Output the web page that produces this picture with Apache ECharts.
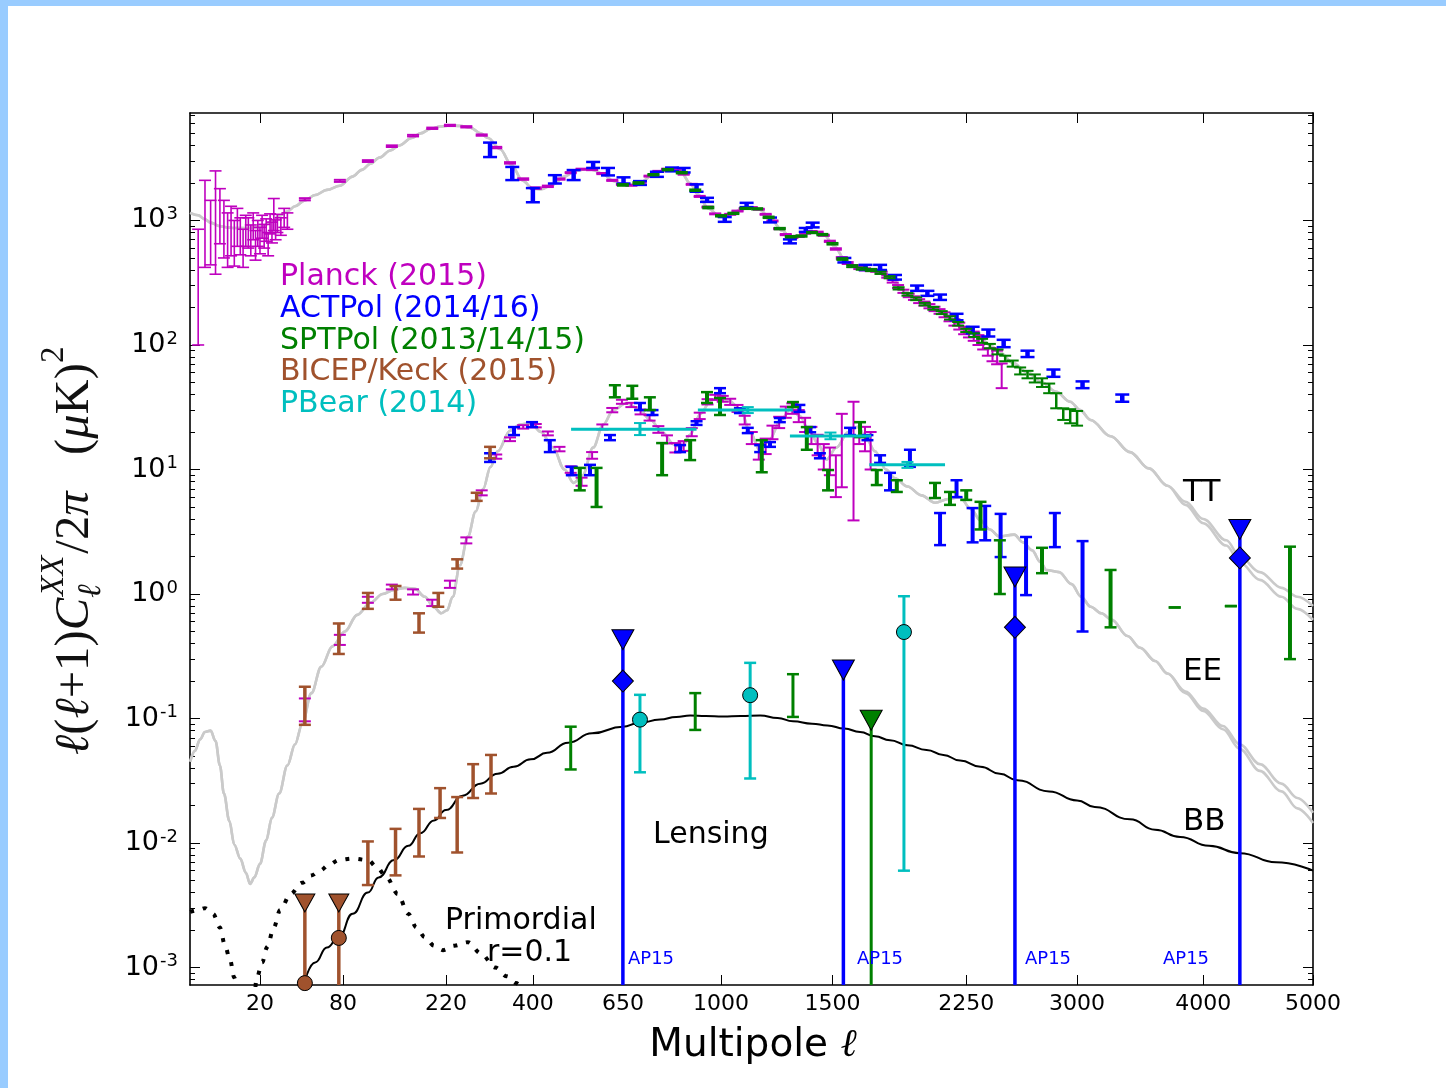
<!DOCTYPE html>
<html><head><meta charset="utf-8">
<script src="https://cdn.jsdelivr.net/npm/echarts@6/dist/echarts.min.js"></script>
<style>html,body{margin:0;padding:0;background:#fff}#c{width:1446px;height:1088px}</style>
</head><body><div id="c"></div><script>
// ---------- axis ticks ----------
const xTickLabels = [20, 80, 220, 400, 650, 1000, 1500, 2250, 3000, 4000, 5000];
const yTickExps = [-3, -2, -1, 0, 1, 2, 3];

// ---------- theory curves [ell, D] ----------
const ttTheory = [[1.1,1150],[2,1100],[3,1020],[4,960],[6,900],[8,880],[10,870],[14,870],[18,880],[22,910],[26,990],[30,1090],[35,1180],[40,1300],[47,1450],[55,1600],[65,1760],[77,1900],[90,2250],[100,2550],[110,2850],[121,3200],[135,3650],[147,4000],[165,4600],[178,5000],[195,5450],[210,5680],[227,5800],[245,5750],[265,5550],[285,5000],[300,4600],[325,3750],[350,2800],[375,2100],[400,1800],[420,1780],[450,1950],[480,2250],[510,2500],[540,2580],[560,2550],[590,2350],[620,2080],[650,1930],[680,1920],[710,2050],[750,2350],[790,2550],[820,2570],[850,2400],[880,2000],[910,1620],[950,1250],[990,1100],[1030,1110],[1080,1220],[1120,1270],[1160,1220],[1210,1030],[1260,830],[1300,730],[1340,740],[1390,800],[1420,810],[1460,760],[1510,620],[1560,490],[1610,430],[1660,410],[1720,400],[1780,370],[1830,320],[1880,275],[1940,240],[2000,215],[2060,195],[2130,175],[2200,150],[2270,130],[2340,113],[2400,100],[2470,86],[2550,72],[2650,60],[2750,50],[2850,42],[2950,35],[3022,30],[3100,25],[3250,18.5],[3400,13.8],[3550,10.2],[3700,7.4]];
const ttTailA = [[3850,5.5],[4000,4.0],[4200,2.7],[4320,2.0],[4500,1.5],[4700,1.12],[4850,0.95],[5000,0.8]];
const ttTailB = [[3850,5.2],[4000,3.7],[4200,2.45],[4320,1.8],[4500,1.3],[4700,0.95],[4850,0.76],[5000,0.62]];

const eeTheory = [[1.1,0.045],[1.6,0.055],[2.25,0.068],[3,0.078],[4,0.08],[5,0.066],[6,0.042],[7,0.025],[8.5,0.015],[10,0.0097],[12,0.0075],[14,0.0058],[15.7,0.0047],[17.5,0.0053],[20,0.0068],[23,0.0105],[26,0.016],[30,0.025],[35,0.042],[40,0.062],[45,0.09],[52,0.16],[60,0.26],[70,0.38],[82,0.5],[95,0.68],[110,0.85],[125,1.0],[140,1.08],[155,1.12],[170,1.1],[185,0.95],[200,0.78],[212,0.7],[222,0.74],[232,0.95],[245,1.7],[260,2.9],[275,4.6],[290,7],[305,10.5],[320,14],[347,20.5],[370,23],[395,23.5],[420,20],[450,15],[480,10],[505,7.8],[530,9],[560,15],[590,23],[620,30],[660,34],[700,31],[740,25],[780,20],[820,16],[850,15],[880,19],[920,28],[960,36],[990,38],[1030,36],[1080,30],[1120,20],[1160,14.4],[1200,17],[1256,25],[1300,31],[1340,27],[1390,20],[1430,16],[1470,12],[1520,15],[1580,20],[1630,22],[1680,17],[1720,14],[1780,10],[1830,8.5],[1900,7.3],[1980,6.2],[2060,5.4],[2140,5.8],[2210,6.0],[2280,4.8],[2340,3.9],[2400,3.3],[2460,2.9],[2560,3.0],[2620,2.6],[2680,2.25],[2740,1.8],[2780,1.56],[2870,1.5],[2960,1.2],[3030,0.95],[3100,0.79],[3180,0.7],[3260,0.62],[3380,0.46],[3480,0.37],[3600,0.29],[3700,0.23]];
const eeTailA = [[3850,0.165],[4000,0.12],[4170,0.087],[4320,0.062],[4500,0.043],[4700,0.03],[4850,0.023],[5000,0.0175]];
const eeTailB = [[3850,0.16],[4000,0.115],[4170,0.082],[4320,0.057],[4500,0.038],[4700,0.026],[4850,0.019],[5000,0.0145]];

const bbLensing = [[46,0.00072],[55,0.0011],[65,0.00145],[76,0.00176],[90,0.0027],[107,0.004],[120,0.0053],[140,0.0073],[160,0.0095],[178,0.012],[200,0.0152],[220,0.0184],[250,0.024],[284,0.030],[320,0.036],[355,0.041],[395,0.047],[435,0.053],[490,0.064],[557,0.076],[650,0.086],[700,0.092],[773,0.098],[830,0.103],[881,0.106],[940,0.105],[1008,0.104],[1080,0.105],[1163,0.106],[1240,0.101],[1310,0.095],[1400,0.091],[1475,0.088],[1560,0.083],[1641,0.078],[1720,0.072],[1802,0.067],[1900,0.061],[2010,0.056],[2110,0.051],[2212,0.046],[2340,0.041],[2465,0.036],[2580,0.032],[2800,0.026],[3000,0.022],[3130,0.0195],[3400,0.0155],[3600,0.0128],[3805,0.0112],[4050,0.0095],[4320,0.0083],[4650,0.007],[5000,0.006]];
const bbPrimordial = [[1.1,0.0028],[2,0.0029],[3,0.003],[4.5,0.0027],[6,0.0021],[7.3,0.0015],[8.7,0.00115],[10,0.00083],[11.5,0.00055],[13,0.0004],[15,0.00035],[17,0.0005],[18.6,0.00083],[21,0.0011],[23.5,0.00146],[27,0.0021],[30.6,0.0029],[37,0.0039],[45,0.0048],[52,0.0055],[59,0.006],[67,0.0067],[76,0.0073],[90,0.0075],[107,0.0073],[118,0.0064],[130,0.0053],[145,0.0039],[160,0.0027],[172,0.0021],[185,0.00176],[200,0.0015],[215,0.00138],[235,0.0015],[260,0.0016],[285,0.0013],[315,0.001],[340,0.00085],[360,0.00075],[400,0.00055],[450,0.0004]];

// ---------- data: [ell, D, low, high] ----------
const planckTTlow = [[2,500,100,850],[3,900,420,2100],[4,750,440,1450],[5,1000,370,2500],[6,1100,650,1800],[7,850,500,1450],[8,700,420,1150],[9,800,520,1300],[10,650,430,1000],[11,900,620,1250],[12,750,530,1050],[13,600,420,850],[14,850,620,1100],[15,800,600,1050],[16,700,520,920],[17,900,700,1150],[18,650,480,830],[19,800,620,1000],[20,700,540,880],[21,900,720,1100],[22,750,600,930],[23,850,680,1030],[24,650,520,800],[25,950,780,1130],[26,800,660,970],[27,1000,830,1500],[28,850,700,1010],[29,950,800,1120],[31,900,760,1050],[33,1050,880,1250],[35,1000,850,1150]];
// [ell, D, sigma]
const planckTT = [[47,1480,30],[77,2080,40],[107,3000,50],[137,3950,60],[167,4800,70],[197,5500,70],[227,5800,70],[257,5650,70],[287,4850,60],[317,3850,50],[347,2900,40],[377,2150,30],[407,1820,25],[437,1880,25],[467,2150,25],[497,2420,25],[527,2580,25],[557,2560,25],[587,2380,25],[617,2100,22],[647,1950,20],[677,1920,20],[707,2030,20],[737,2270,20],[767,2480,22],[797,2580,22],[827,2560,22],[857,2350,20],[887,1950,18],[917,1560,15],[947,1280,12],[977,1130,10],[1007,1090,10],[1037,1120,10],[1067,1190,10],[1097,1250,11],[1127,1270,11],[1157,1230,11],[1187,1120,10],[1217,990,10],[1247,860,9],[1277,770,8],[1307,730,8],[1337,745,8],[1367,790,8],[1397,815,8],[1427,805,8],[1457,760,8],[1487,680,8],[1517,590,8],[1547,500,8],[1577,455,8],[1607,430,8],[1637,415,8],[1667,405,8],[1697,400,8],[1727,395,8],[1757,380,8],[1787,355,8],[1817,325,8],[1847,295,8],[1877,270,8],[1907,250,8],[1937,238,8],[1967,225,8],[1997,215,8],[2027,205,8],[2057,195,8],[2087,186,8],[2117,175,8],[2147,163,8],[2177,152,9],[2207,142,9],[2237,131,9],[2267,125,10],[2297,118,10],[2327,110,10],[2357,104,12],[2387,88,6],[2417,84,10],[2447,80,10],[2477,58,13]];
const actTT = [[304,3680,3230,4220],[352,2400,2110,2690],[400,1620,1400,1820],[455,2130,1980,2310],[505,2300,2110,2540],[560,2790,2640,2950],[604,2460,2300,2640],[652,2100,1980,2220],[705,2010,1930,2070],[762,2350,2240,2460],[815,2580,2480,2660],[857,2530,2430,2640],[905,1820,1700,1950],[945,1460,1410,1520],[1015,1020,975,1065],[1105,1330,1280,1385],[1206,1010,965,1055],[1296,680,655,705],[1370,840,810,870],[1403,920,880,960],[1560,480,460,500],[1670,420,400,440],[1748,420,400,440],[1830,350,335,365],[1955,286,272,300],[2015,260,248,272],[2090,242,230,254],[2190,168,158,178],[2290,132,124,140],[2390,125,117,133],[2490,103,96,110],[2650,85,80,90],[2830,59.5,55.5,63.5],[3040,48,45,51],[3340,37.5,35,40]];
// [ell, D, sigma]
const sptTT = [[650,1930,30],[700,2000,30],[750,2330,30],[800,2560,35],[850,2420,35],[900,1750,25],[950,1270,20],[1000,1090,15],[1050,1140,15],[1100,1250,15],[1150,1240,15],[1200,1060,15],[1250,860,12],[1300,740,10],[1350,750,10],[1400,800,10],[1450,770,10],[1500,650,10],[1550,490,8],[1600,430,8],[1650,410,8],[1700,400,8],[1750,380,8],[1800,350,7],[1850,285,6],[1900,255,6],[1950,235,6],[2000,213,5],[2050,197,5],[2100,182,5],[2150,165,5],[2200,148,5],[2250,131,4],[2300,120,4],[2350,108,4],[2400,98,4],[2450,88,4],[2500,78,4],[2550,71,4],[2600,62,4],[2650,58,4],[2700,54,4],[2750,50,4],[2800,45,4],[2850,36,5],[2900,28,3],[2950,27,3.5],[3000,26,3.5]];

const planckEE = [[47,0.12,0.095,0.145],[77,0.43,0.39,0.47],[107,0.9,0.85,0.95],[137,1.14,1.09,1.19],[167,1.04,0.99,1.09],[197,0.85,0.8,0.9],[227,1.2,1.12,1.28],[257,2.7,2.55,2.85],[287,6.5,6.2,6.8],[317,12.7,12.2,13.2],[347,17.5,16.9,18.1],[377,22,21.3,22.7],[407,22.5,21.8,23.2],[437,19.5,18.8,20.2],[467,14.6,14,15.2],[497,10,9.4,10.6],[527,8,7.4,8.6],[557,13,12.2,13.8],[587,22,21,23],[617,30,28.8,31.2],[647,35,33.7,36.3],[677,33,31.7,34.3],[707,29,27.7,30.3],[737,26,24.7,27.3],[767,21,19.7,22.3],[797,17.5,16.2,18.8],[827,15,13.7,16.3],[857,15.5,14.1,16.9],[887,20,18.5,21.5],[917,27,25.4,28.6],[947,35,33.3,36.7],[977,38,36.2,39.8],[1007,37,35,39],[1037,35,33,37],[1067,31,29,33],[1097,25,23,27],[1127,18,16,20],[1157,14,12,16],[1187,15.5,13.3,17.7],[1217,20,17.5,22.5],[1247,24,21.5,26.5],[1277,29,26,32],[1307,31,28,34],[1337,27,24,30],[1367,23,20,26],[1397,19,16,22],[1427,16,13,19],[1457,13,10,16],[1487,12,9,15],[1517,9.5,6,13],[1547,15.7,7.2,28],[1607,13,3.9,35],[1637,20,16,24],[1667,18,14,22],[1697,15,10,20]];
const actEE = [[304,12.5,11.5,13.5],[356,20,18.9,21.9],[398,23,21.9,24],[442,15.3,13.8,17.2],[500,9.7,9.0,10.5],[551,9.8,9.0,10.9],[610,18,17.2,18.9],[705,32,30,34.2],[747,29,27.4,30],[844,14.7,13.8,15.7],[905,23.5,22.8,24.4],[996,43,41,45],[1077,29.7,28.4,31],[1110,20.5,19.6,21.6],[1163,14.7,13.8,15.7],[1206,15.9,15.2,16.6],[1250,25,24,25.9],[1340,31,29,33],[1391,20.7,19.9,21.9],[1438,12.9,12.3,13.5],[1589,20,18.9,21.6],[1680,17.8,17.2,18.9],[1748,12.1,11.3,13],[1802,8,6.8,9.4],[1914,12.3,10.5,14.4],[2090,3.4,2.47,4.47],[2190,7,6,8.2],[2290,3.6,2.6,4.9],[2370,3.6,2.7,5.1],[2470,3,1.98,4.4],[2640,1.7,0.98,2.87],[2840,3.3,2.38,4.47],[3040,1.2,0.5,2.66]];
const sptEE = [[522,8.2,6.8,10.3],[570,7.2,5.0,10.3],[625,42,38,47.5],[680,41,37,47],[738,34,30,38],[780,12,9,16.3],[881,14.3,11.9,17.2],[945,37.8,34.2,41.8],[996,32,27.4,37.5],[1170,12.8,9.5,17.2],[1310,33,31.7,34.8],[1375,17.8,14.4,21.9],[1478,8.2,6.8,9.9],[1641,21,18.2,24],[1730,8.7,7.5,9.9],[1840,7.5,6.6,8.2],[2060,6.8,5.9,7.8],[2150,5.9,5.2,6.6],[2250,6.2,5.7,6.8],[2340,4.3,3.3,5.5],[2465,1.6,1.0,2.7],[2750,1.85,1.47,2.35],[3250,0.9,0.54,1.56],[3760,0.78,0.78,0.78],[4240,0.8,0.8,0.8],[4780,0.85,0.3,2.4]];
const bkEE = [[47,0.127,0.089,0.18],[76,0.44,0.33,0.58],[107,0.88,0.76,1.02],[142,1.02,0.9,1.16],[176,0.59,0.49,0.7],[207,0.9,0.79,1.02],[240,1.75,1.6,1.9],[277,6.0,5.6,6.5],[304,13.8,12.3,15.2]];
// [ell, D, low, high, ellMin, ellMax]
const pbEE = [[705,21,18.9,23.6,498,905],[1110,30,28.4,31.7,910,1310],[1490,18.6,17.5,19.8,1296,1700],[1900,10.9,10.3,11.5,1690,2120]];

const bkBB = [[107,0.0069,0.0046,0.0103],[142,0.0085,0.0055,0.013],[176,0.012,0.0078,0.0188],[210,0.021,0.0159,0.0276],[240,0.014,0.0084,0.0234],[270,0.032,0.023,0.043],[306,0.036,0.025,0.051]];
// [ell, upper limit, central]
const bkBBlim = [[47,0.0033,0.00075],[76,0.0033,0.00173]];
const sptBB = [[497,0.058,0.039,0.086],[900,0.115,0.081,0.16],[1310,0.154,0.103,0.227]];
const sptBBlim = [[1700,0.097,null]];
const actBBlim = [[650,0.43,0.2],[1555,0.245,null],[2565,1.37,0.54],[4320,3.3,1.95]];
const pbBB = [[705,0.098,0.037,0.155],[1120,0.154,0.033,0.28],[1880,0.495,0.006,0.96]];

// ---------- scales ----------
const PW = 0.45;
const X = l => Math.pow(l, PW);
const Y = v => Math.log10(v);
const X_MIN = 1.037, X_MAX = X(5000);
const Y_MIN = -3.14, Y_MAX = 3.863;
const COL = {planck:'#bf00bf', act:'#0000ff', spt:'#008000', bk:'#a0522d', pb:'#00bfbf', th:'#cacaca'};
const FS = '"DejaVu Sans", sans-serif';

function lineSeries(pts, color, width, extra) {
  return Object.assign({type:'line', data: pts.map(p => [X(p[0]), Y(p[1])]), showSymbol:false, symbol:'none',
    smooth:0.35, smoothMonotone:'x', silent:true, z:1, lineStyle:{color, width}}, extra || {});
}
function errSeries(data, color, lw, cap, opt) {
  opt = opt || {};
  return {type:'custom', clip:true, silent:true, z: opt.z || 3,
    data: data.map(d => [X(d[0]), Y(d[1]), Y(d[2] > 0 ? d[2] : 1e-7), Y(d[3])]),
    encode:{x:0, y:1},
    renderItem: (params, api) => {
      const x = api.value(0);
      const lo = api.coord([x, api.value(2)]), hi = api.coord([x, api.value(3)]);
      const ch = [{type:'line', shape:{x1:lo[0], y1:lo[1], x2:hi[0], y2:hi[1]}, style:{stroke:color, lineWidth:lw}}];
      const cw = opt.capW || 2;
      if (!opt.noTop) ch.push({type:'line', shape:{x1:hi[0]-cap, y1:hi[1], x2:hi[0]+cap, y2:hi[1]}, style:{stroke:color, lineWidth:cw}});
      if (!opt.noLow) ch.push({type:'line', shape:{x1:lo[0]-cap, y1:lo[1], x2:lo[0]+cap, y2:lo[1]}, style:{stroke:color, lineWidth:cw}});
      return {type:'group', children:ch};
    }};
}
function sym(data, symbol, size, color, rot, z) {
  return {type:'scatter', clip:true, silent:true, z: z || 6, symbol, symbolSize:size, symbolRotate: rot || 0,
    data: data.map(p => [X(p[0]), Y(p[1])]),
    itemStyle:{color, borderColor:'#000', borderWidth:1, opacity:1}};
}
const sig = a => a.map(d => [d[0], d[1], d[1]-d[2], d[1]+d[2]]);
const limLines = a => a.map(d => [d[0], d[1], 1e-7, d[1]]);
const centrals = a => a.filter(d => d[2] != null).map(d => [d[0], d[2]]);

const pbEESeries = {type:'custom', clip:true, silent:true, z:7,
  data: pbEE.map(d => [X(d[0]), Y(d[1]), Y(d[2]), Y(d[3]), X(d[4]), X(d[5])]),
  encode:{x:0, y:1},
  renderItem: (params, api) => {
    const y = api.value(1), xc = api.value(0);
    const a = api.coord([api.value(4), y]), b = api.coord([api.value(5), y]);
    const lo = api.coord([xc, api.value(2)]), hi = api.coord([xc, api.value(3)]);
    const st = {stroke:COL.pb, lineWidth:3};
    return {type:'group', children:[
      {type:'line', shape:{x1:a[0], y1:a[1], x2:b[0], y2:b[1]}, style:st},
      {type:'line', shape:{x1:lo[0], y1:lo[1], x2:hi[0], y2:hi[1]}, style:st},
      {type:'line', shape:{x1:lo[0]-6, y1:lo[1], x2:lo[0]+6, y2:lo[1]}, style:{stroke:COL.pb, lineWidth:2}},
      {type:'line', shape:{x1:hi[0]-6, y1:hi[1], x2:hi[0]+6, y2:hi[1]}, style:{stroke:COL.pb, lineWidth:2}}]};
  }};

// ---------- axes ----------
const xTV = xTickLabels.map(X);
const yTV = yTickExps.slice();
const yMinor = [];
for (let n = -4; n <= 3; n++) for (let k = 2; k <= 9; k++) { const v = n + Math.log10(k); if (v > Y_MIN && v < Y_MAX) yMinor.push(v); }
const AL = {show:true, onZero:false, lineStyle:{color:'#000', width:1.6}};
function xAx(pos, labels) {
  return {type:'value', min:X_MIN, max:X_MAX, position:pos, axisLine:AL, splitLine:{show:false},
    axisTick:{show:true, inside:true, length:10, customValues:xTV, lineStyle:{color:'#000', width:1}},
    axisLabel:{show:labels, customValues:xTV, margin:8, color:'#000', fontSize:22, fontFamily:FS,
      formatter: v => { let i = 0, b = 1e9; xTV.forEach((t, j) => { if (Math.abs(t - v) < b) { b = Math.abs(t - v); i = j; } }); return String(xTickLabels[i]); }}};
}
function yAx(pos, vals, len, labels, line) {
  return {type:'value', min:Y_MIN, max:Y_MAX, position:pos, axisLine: line ? AL : {show:false}, splitLine:{show:false},
    axisTick:{show:true, inside:true, length:len, customValues:vals, lineStyle:{color:'#000', width:1}},
    axisLabel:{show:labels, customValues:vals, margin:12, color:'#000',
      formatter: v => '{b|10}{s|' + Math.round(v) + '}',
      rich:{b:{fontSize:27, fontFamily:FS, color:'#000', lineHeight:30}, s:{fontSize:18, fontFamily:FS, color:'#000', verticalAlign:'top', padding:[0,0,0,1]}}}};
}

// ---------- y label pieces ----------
const mctx = document.createElement('canvas').getContext('2d');
const tw = (f, s) => { mctx.font = f; return mctx.measureText(s).width; };
function buildYLabel(F) {
  const SER = '"Liberation Serif", "DejaVu Serif", serif';
  const fi = `italic ${F}px ${SER}`, fr = `${F}px ${SER}`;
  const S = Math.round(F * 0.68);
  const fsi = `italic ${S}px ${SER}`, fsr = `${S}px ${SER}`;
  const out = []; let cx = 0;
  const put = (s, f, dy) => { out.push({type:'text', x:cx, y:dy, style:{text:s, font:f, fill:'#111', align:'left', verticalAlign:'middle', textAlign:'left', textVerticalAlign:'middle'}}); cx += tw(f, s); };
  put('ℓ', fi, 0); put('(', fr, 0); put('ℓ', fi, 0); put('+1)', fr, 0); put('C', fi, 0);
  const sx = cx; put('ℓ', fsi, F*0.33); const w1 = cx; cx = sx + 2; put('XX', fsi, -F*0.42); cx = Math.max(cx, w1) + 2;
  put('/', fr, 0); put('2', fr, 0); put('π', fi, 0); put('   (', fr, 0); put('μ', fi, 0); put('K)', fr, 0); put('2', fsr, -F*0.42);
  return {children: out, width: cx};
}
let yl = buildYLabel(30);
yl = buildYLabel(30 * 410 / yl.width);

const txt = (s, x, y, size, color, extra) => ({type:'text', x, y, z:50, style:Object.assign({text:s, fill:color || '#000', fontSize:size, fontFamily:FS,
  align:'left', verticalAlign:'middle', textAlign:'left', textVerticalAlign:'middle'}, extra || {})});

const graphic = [
  {type:'rect', shape:{x:0, y:0, width:1446, height:6}, style:{fill:'#99ccff'}, z:-1},
  {type:'rect', shape:{x:0, y:0, width:8, height:1088}, style:{fill:'#99ccff'}, z:-1},
  {type:'group', x:75, y:755, rotation:Math.PI/2, children:yl.children},
  {type:'text', x:753, y:1046, style:{text:'{a|Multipole }{b|ℓ}', align:'center', verticalAlign:'middle', textAlign:'center', textVerticalAlign:'middle',
    rich:{a:{fontSize:39, fontFamily:FS, color:'#000'}, b:{fontSize:39, fontStyle:'italic', fontFamily:'"DejaVu Serif", serif', color:'#000'}}}},
  txt('Planck (2015)', 280, 277, 30, COL.planck),
  txt('ACTPol (2014/16)', 280, 309, 30, COL.act),
  txt('SPTPol (2013/14/15)', 280, 341, 30, COL.spt),
  txt('BICEP/Keck (2015)', 280, 372, 30, COL.bk),
  txt('PBear (2014)', 280, 404, 30, COL.pb),
  txt('TT', 1183, 493, 31), txt('EE', 1183, 672, 31), txt('BB', 1183, 822, 31),
  txt('Lensing', 653, 835, 30), txt('Primordial', 445, 921, 30), txt('r=0.1', 487, 953, 30),
  txt('AP15', 628, 959, 18, COL.act), txt('AP15', 857, 959, 18, COL.act), txt('AP15', 1025, 959, 18, COL.act), txt('AP15', 1163, 959, 18, COL.act)
];

const series = [
  lineSeries(ttTheory.concat(ttTailA), COL.th, 2.6),
  lineSeries(ttTheory.concat(ttTailB), COL.th, 2.6),
  lineSeries(eeTheory.concat(eeTailA), COL.th, 2.6),
  lineSeries(eeTheory.concat(eeTailB), COL.th, 2.6),
  lineSeries(bbLensing, '#000', 2, {z:2, smooth:0.5}),
  lineSeries(bbPrimordial, '#000', 4, {z:2, lineStyle:{color:'#000', width:4, type:[4, 9], cap:'butt'}}),
  // TT
  errSeries(planckTTlow, COL.planck, 1.6, 6, {capW:1.6}),
  errSeries(sig(planckTT), COL.planck, 2, 6),
  errSeries(actTT, COL.act, 4.5, 7, {capW:2.5}),
  errSeries(sig(sptTT), COL.spt, 2.5, 6),
  // EE
  errSeries(planckEE, COL.planck, 2, 6),
  errSeries(actEE, COL.act, 4, 6, {capW:2.5}),
  errSeries(sptEE, COL.spt, 4, 6, {capW:2.5}),
  errSeries(bkEE, COL.bk, 3.5, 6, {capW:2.5}),
  pbEESeries,
  // BB
  errSeries(bkBB, COL.bk, 3.5, 6, {capW:2.5, z:4}),
  errSeries(limLines(bkBBlim), COL.bk, 3.5, 6, {noTop:true, noLow:true, z:4}),
  errSeries(sptBB, COL.spt, 3, 6, {capW:2.5, z:4}),
  errSeries(limLines(sptBBlim), COL.spt, 3, 6, {noTop:true, noLow:true, z:4}),
  errSeries(limLines(actBBlim), COL.act, 3.5, 6, {noTop:true, noLow:true, z:4}),
  errSeries(pbBB, COL.pb, 3, 6, {capW:2.5, z:4}),
  sym(bkBBlim.map(d => [d[0], d[1]]), 'triangle', [20, 18], COL.bk, 180),
  sym(centrals(bkBBlim), 'circle', 15, COL.bk),
  sym(sptBBlim.map(d => [d[0], d[1]]), 'triangle', [22, 20], COL.spt, 180),
  sym(actBBlim.map(d => [d[0], d[1]]), 'triangle', [22, 20], COL.act, 180),
  sym(centrals(actBBlim), 'diamond', [21, 22], COL.act),
  sym(pbBB.map(d => [d[0], d[1]]), 'circle', 15, COL.pb)
];

const chart = echarts.init(document.getElementById('c'), null, {renderer:'canvas'});
chart.setOption({
  animation:false, backgroundColor:'#fff',
  grid:{left:190, right:133, top:113, bottom:103, containLabel:false},
  xAxis:[xAx('bottom', true), xAx('top', false)],
  yAxis:[yAx('left', yTV, 10, true, true), yAx('left', yMinor, 5, false, false), yAx('right', yTV, 10, false, true), yAx('right', yMinor, 5, false, false)],
  series, graphic
});
</script></body></html>
